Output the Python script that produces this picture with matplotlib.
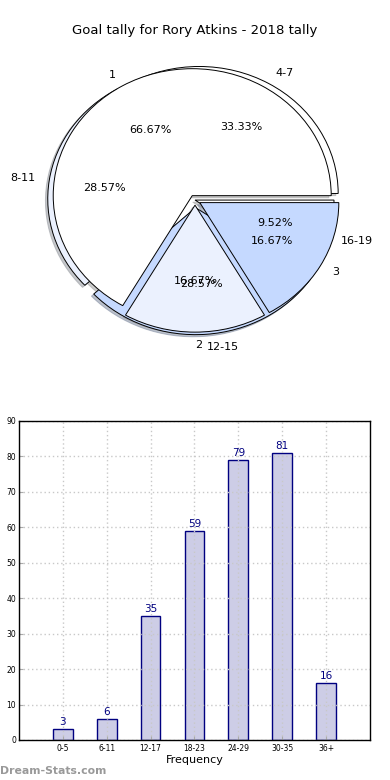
import matplotlib
matplotlib.use("Agg")
import matplotlib.pyplot as plt

title = "Goal tally for Rory Atkins - 2018 tally"

# pie 1 (goals per game)
pie1_labels = ["1", "2", "3"]
pie1_values = [4, 1, 1]
# pie 2 (minute ranges)
pie2_labels = ["4-7", "8-11", "12-15", "16-19"]
pie2_values = [7, 6, 6, 2]

pie_colors = ["#ffffff", "#ebf1fe", "#c5d9ff", "#ffffff"]

# bar chart
bar_categories = ["0-5", "6-11", "12-17", "18-23", "24-29", "30-35", "36+"]
bar_values = [3, 6, 35, 59, 79, 81, 16]

fig = plt.figure(figsize=(3.9, 7.8), dpi=100)
fig.text(0.5, 0.961, title, ha="center", va="center", fontsize=9.5)

ax1 = fig.add_axes([0.0545, 0.540, 0.891, 0.407])
wp = dict(edgecolor="black", linewidth=0.7)
tp = dict(fontsize=8)
shad = dict(ox=-0.012, oy=-0.012, shade=0.4)
ax1.pie(pie2_values, labels=pie2_labels, colors=pie_colors[:4], autopct="%.2f%%",
        explode=[0.06, 0.06, 0.06, 0.0], shadow=shad, startangle=0,
        wedgeprops=wp, textprops=tp)
ax1.pie(pie1_values, labels=pie1_labels, colors=pie_colors[:3], autopct="%.2f%%",
        explode=[0.04] * 3, shadow=shad, startangle=0, wedgeprops=wp, textprops=tp)
ax1.set_aspect("auto")
ax1.set_xlim(-1.25, 1.25)
ax1.set_ylim(-1.25, 1.25)
ax1.axis("off")

ax2 = fig.add_axes([0.0487, 0.0513, 0.9, 0.409])
x = list(range(len(bar_categories)))
bars = ax2.bar(x, bar_values, width=0.45, color="#cdcde6", edgecolor="#000080",
               linewidth=1.0, zorder=1)
for xi, v in zip(x, bar_values):
    ax2.text(xi, v + 0.6, str(v), ha="center", va="bottom", fontsize=7.5,
             color="#000080", zorder=4)
ax2.set_xlim(-1, 7)
ax2.set_ylim(0, 90)
ax2.set_xticks(x)
ax2.set_xticklabels(bar_categories, fontsize=5.5)
ax2.set_yticks(range(0, 91, 10))
ax2.tick_params(axis="y", labelsize=5.5, length=3, direction="in", color="#aaaaaa", pad=2)
ax2.tick_params(axis="x", length=3, direction="in", color="#aaaaaa", pad=3)
ax2.grid(True, linestyle=(0, (1, 2)), color="#c8c8c8", linewidth=1.0, zorder=3)
ax2.set_axisbelow(False)
ax2.set_xlabel("Frequency", fontsize=8, labelpad=1)
for s in ax2.spines.values():
    s.set_linewidth(1.0)
    s.set_color("black")
    s.set_zorder(5)

fig.text(0.0, 0.012, "Dream-Stats.com", fontsize=7.8, color="#999999",
         fontweight="bold", ha="left", va="center")

fig.savefig("out.png", dpi=100)
